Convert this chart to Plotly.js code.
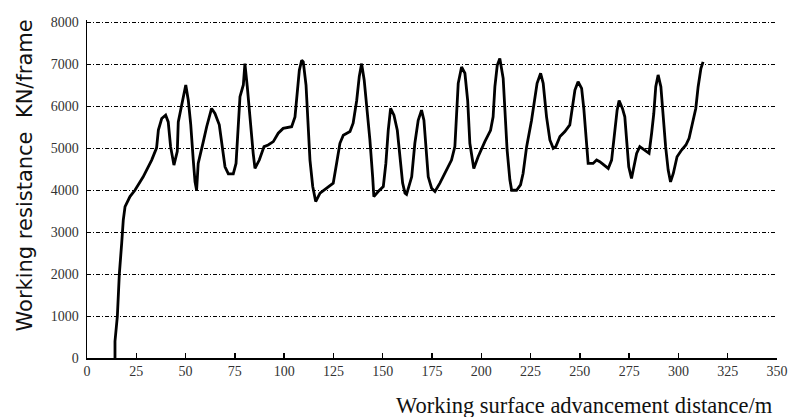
<!DOCTYPE html>
<html>
<head>
<meta charset="utf-8">
<script src="https://cdn.plot.ly/plotly-3.0.1.min.js"></script>
<style>html,body{margin:0;padding:0;background:#fff;}#chart{width:795px;height:417px;}</style>
</head>
<body>
<div id="chart"></div>
<script>
const distance = [14.2,14.2,15.4,16.4,17.6,18.4,19.3,21.8,24.3,28.5,32.8,35.3,36.2,37.9,39.9,41.2,42.4,44.1,45.8,46.3,47.5,48.8,50.1,51.4,52.6,53.9,54.8,55.6,56.4,59.0,
60.7,63.2,64.9,67.1,68.8,70.0,71.7,74.2,75.6,76.7,77.6,79.3,80.1,81.3,82.7,84.3,85.2,87.4,89.8,91.9,94.5,97.0,99.5,103.8,105.5,106.3,107.7,108.9,
109.7,111.1,112.2,113.1,114.5,116.0,118.2,121.6,124.9,126.6,128.3,130.0,133.4,135.0,136.8,138.1,139.3,140.6,141.8,143.5,144.9,145.5,147.7,150.3,151.6,152.8,154.0,155.7,157.4,158.7,160.1,161.3,
162.1,164.7,166.3,168.0,169.7,170.9,171.9,173.1,174.8,176.5,179.0,182.4,184.9,186.6,187.5,188.3,190.0,191.7,193.1,194.2,196.2,198.4,201.8,204.7,206.0,206.9,208.1,209.4,
211.1,212.0,213.1,214.5,215.4,217.9,219.9,221.2,223.0,225.5,227.2,228.3,230.1,231.4,233.1,234.8,236.5,237.8,239.9,242.4,244.9,246.3,247.5,249.1,250.9,252.0,253.0,254.2,256.7,258.5,260.1,
262.2,264.4,266.1,266.9,267.7,268.9,269.9,271.6,272.8,273.7,274.8,276.2,277.4,278.8,280.4,283.0,285.1,286.4,287.5,288.5,289.7,291.1,292.2,293.5,294.8,296.0,297.4,299.3,301.6,303.8,305.4,307.1,308.8,310.0,311.4,312.5];
const resistance = [0,400,1000,2000,2740,3290,3610,3850,4000,4320,4720,5010,5435,5710,5790,5630,5040,4600,4930,5630,5910,6230,6510,6140,5580,4720,4200,4000,4640,5160,
5515,5950,5830,5560,5040,4560,4390,4390,4640,5430,6230,6510,7020,6470,5670,4880,4520,4720,5040,5080,5160,5360,5475,5515,5750,6230,6860,7100,
7060,6510,5670,4720,4090,3730,3930,4050,4170,4640,5120,5310,5400,5600,6140,6710,7020,6630,6070,5200,4320,3850,3970,4090,4640,5430,5950,5790,5430,4800,4170,3930,
3900,4320,5120,5670,5910,5670,5040,4320,4050,3970,4170,4480,4720,5040,5750,6550,6940,6790,6140,5120,4520,4800,5160,5430,5750,6470,6980,7140,
6670,5750,4960,4250,4000,4000,4130,4400,5040,5670,6140,6550,6790,6550,5750,5200,5000,5040,5280,5400,5560,5950,6390,6590,6430,5950,5280,4640,4640,4720,4680,
4600,4520,4720,5040,5515,5910,6140,5950,5750,5120,4560,4280,4560,4880,5040,4960,4880,5360,5830,6470,6750,6470,5750,5040,4480,4200,4400,4800,4960,5080,5240,5640,5950,6470,6900,7060];
const xTicks = [0,25,50,75,100,125,150,175,200,225,250,275,300,325,350];
const yTicks = [0,1000,2000,3000,4000,5000,6000,7000,8000];
const xTitle = 'Working surface advancement distance/m';
const yTitle = 'Working resistance  KN/frame';

const tickFont = {family: 'Liberation Serif, serif', size: 14, color: '#333'};
Plotly.newPlot('chart', [{
  x: distance, y: resistance, type: 'scatter', mode: 'lines',
  line: {color: '#000', width: 2.8}, hoverinfo: 'skip'
}], {
  width: 795, height: 417,
  margin: {l: 87, r: 18, t: 20, b: 59},
  paper_bgcolor: '#fff', plot_bgcolor: '#fff',
  showlegend: false,
  xaxis: {
    range: [0, 350], tickvals: xTicks, ticktext: xTicks.map(String),
    ticks: 'inside', ticklen: 5, tickwidth: 1.5, tickcolor: '#000',
    showline: true, linecolor: '#000', linewidth: 1.5,
    showgrid: false, zeroline: false, tickfont: tickFont
  },
  yaxis: {
    range: [0, 8060], tickvals: yTicks, ticktext: yTicks.map(String),
    ticks: '', showline: true, linecolor: '#000', linewidth: 1.5,
    showgrid: true, gridcolor: '#000', gridwidth: 1, griddash: '4px,2px,1px,2px',
    zeroline: false, tickfont: tickFont, ticklabelstandoff: 4
  },
  annotations: [
    {text: xTitle, xref: 'paper', yref: 'paper', x: 1.0, xshift: -2, y: 0, yshift: -47, xanchor: 'right', yanchor: 'middle',
     showarrow: false, font: {family: 'Liberation Serif, serif', size: 22.5, color: '#111'}},
    {text: yTitle, xref: 'paper', yref: 'paper', x: 0, xshift: -62, y: 0.54, xanchor: 'center', yanchor: 'middle',
     textangle: -90, showarrow: false, font: {family: 'DejaVu Sans, sans-serif', size: 21, color: '#111'}}
  ]
}, {staticPlot: true, displayModeBar: false});
</script>
</body>
</html>
